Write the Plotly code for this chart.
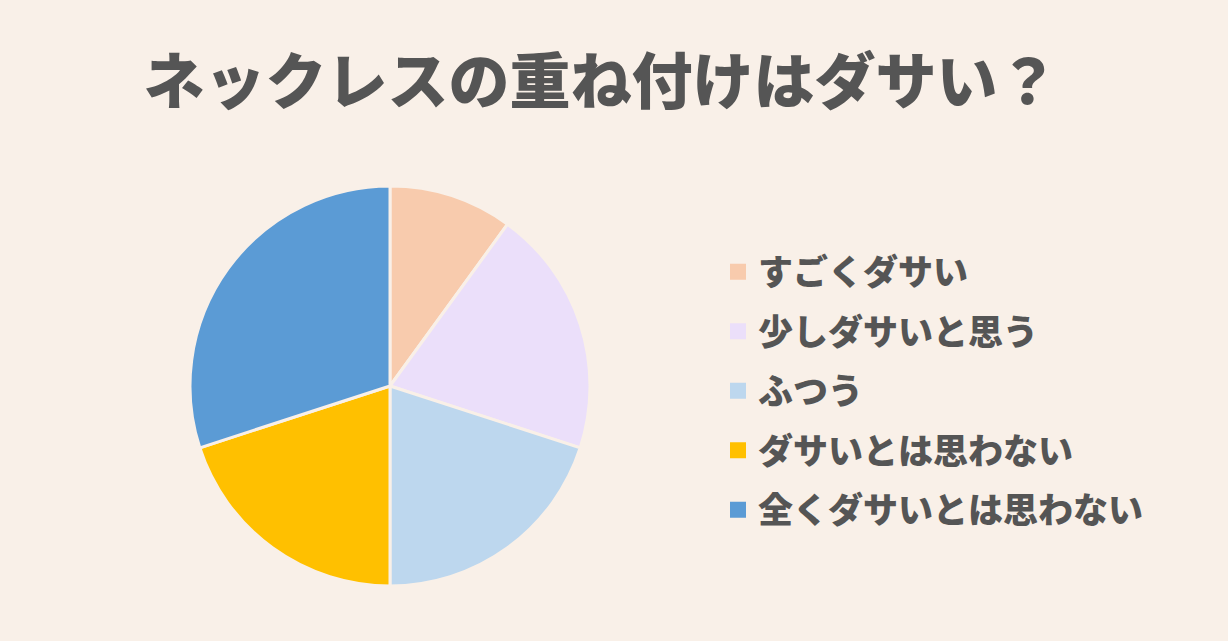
import plotly.graph_objects as go

title_text = "ネックレスの重ね付けはダサい？"
categories = ["すごくダサい", "少しダサいと思う", "ふつう", "ダサいとは思わない", "全くダサいとは思わない"]
values = [10, 20, 20, 20, 30]
colors = ["#F8CBAD", "#EBDFFA", "#BDD7EE", "#FFC000", "#5B9BD5"]

BG = "#F9F0E8"
FONT = "Noto Sans CJK JP"
TEXT = "#555555"

fig = go.Figure()
fig.add_trace(go.Pie(
    labels=categories,
    values=values,
    sort=False,
    direction="clockwise",
    rotation=0,
    marker=dict(colors=colors, line=dict(color=BG, width=3)),
    textinfo="none",
    showlegend=False,
    domain=dict(x=[190 / 1228, 590 / 1228], y=[1 - 586 / 641, 1 - 186 / 641]),
    hoverinfo="label+percent",
))

# legend entries (one per category) so spacing can be controlled
for i, (c, col) in enumerate(zip(categories, colors)):
    fig.add_trace(go.Scatter(
        x=[None], y=[None], mode="markers", name=c,
        marker=dict(symbol="square", size=16, color=col),
        legendgroup=f"g{i}", showlegend=True,
    ))

fig.update_layout(
    width=1228, height=641,
    margin=dict(l=0, r=0, t=0, b=0),
    paper_bgcolor=BG, plot_bgcolor=BG,
    xaxis=dict(visible=False), yaxis=dict(visible=False),
    title=dict(
        text=title_text,
        x=601 / 1228, xanchor="center", y=1 - 83 / 641, yanchor="middle",
        font=dict(family=FONT, size=61, color=TEXT, weight=900),
    ),
    legend=dict(
        x=718 / 1228, xanchor="left", y=1 - 391 / 641, yanchor="middle",
        font=dict(family=FONT, size=35, color=TEXT, weight=900),
        bgcolor="rgba(0,0,0,0)", traceorder="grouped", tracegroupgap=11,
        itemclick=False, itemdoubleclick=False,
    ),
)

fig.write_html("out.html", config={"displayModeBar": False},
               post_script="document.body.style.margin='0';")
